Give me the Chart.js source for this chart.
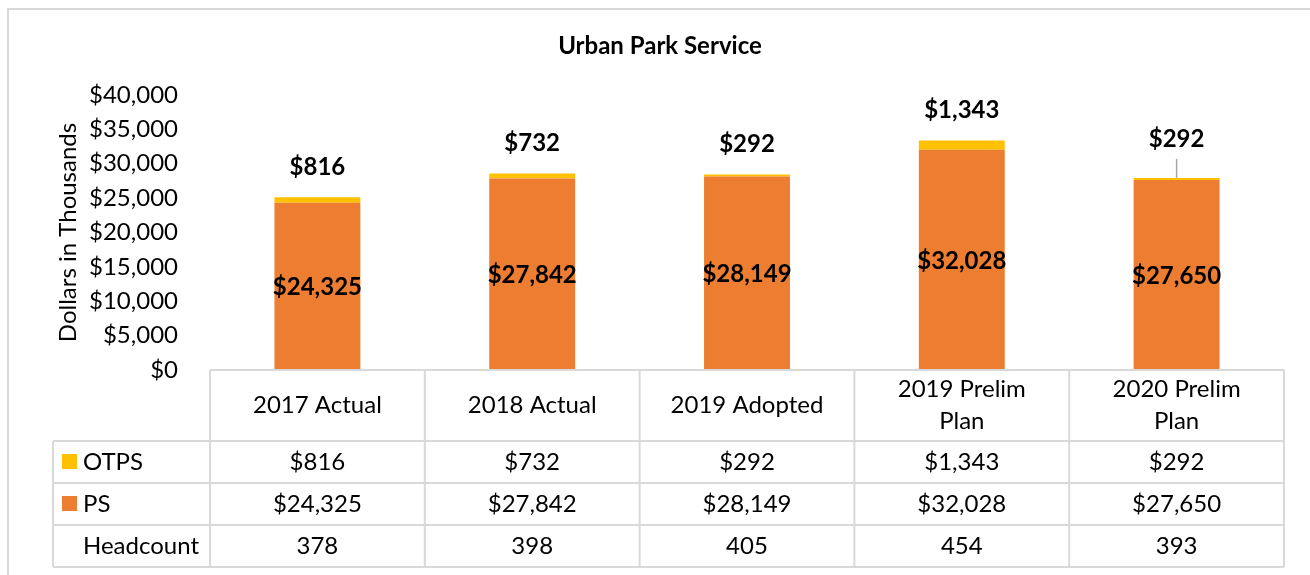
<!DOCTYPE html>
<html>
<head>
<meta charset="utf-8">
<script src="https://cdn.jsdelivr.net/npm/chart.js@4.4.1/dist/chart.umd.min.js"></script>
<style>
  body { margin: 0; background: #fff; }
  canvas { display: block; }
</style>
</head>
<body>
<canvas id="chart" width="1310" height="575"></canvas>
<script>
// data
const categories = [['2017 Actual'], ['2018 Actual'], ['2019 Adopted'], ['2019 Prelim', 'Plan'], ['2020 Prelim', 'Plan']];
const psValues = [24325, 27842, 28149, 32028, 27650];
const otpsValues = [816, 732, 292, 1343, 292];
const headcount = [378, 398, 405, 454, 393];
const yTicks = { min: 0, max: 40000, step: 5000 };

const FONT = 'Lato, "Open Sans", sans-serif';
const PS_COLOR = '#ED7D31';
const OTPS_COLOR = '#FFC000';
const GRID = '#D9D9D9';

function money(v) {
    return '$' + v.toLocaleString('en-US');
}

// outer frame
const framePlugin = {
    id: 'frame',
    beforeDraw(chart) {
        const ctx = chart.ctx;
        ctx.save();
        ctx.strokeStyle = GRID;
        ctx.lineWidth = 2;
        ctx.beginPath();
        ctx.moveTo(8, 600);
        ctx.lineTo(8, 9);
        ctx.lineTo(1320, 9);
        ctx.stroke();
        ctx.restore();
    }
};

// value labels on the bars
const labelPlugin = {
    id: 'barLabels',
    afterDatasetsDraw(chart) {
        const ctx = chart.ctx;
        ctx.save();
        ctx.font = 'bold 24px ' + FONT;
        ctx.fillStyle = '#000';
        ctx.textAlign = 'center';
        ctx.textBaseline = 'middle';

        const psMeta = chart.getDatasetMeta(0);
        psMeta.data.forEach((bar, i) => {
            ctx.fillText(money(psValues[i]), bar.x, (bar.y + bar.base) / 2 + 1);
        });

        const otMeta = chart.getDatasetMeta(1);
        otMeta.data.forEach((bar, i) => {
            let y = bar.y - 30;
            if (i === otMeta.data.length - 1) {
                // last label pushed up with a leader line
                y = bar.y - 39;
                ctx.strokeStyle = '#A6A6A6';
                ctx.lineWidth = 1.5;
                ctx.beginPath();
                ctx.moveTo(bar.x, y + 20);
                ctx.lineTo(bar.x, bar.y);
                ctx.stroke();
            }
            ctx.fillText(money(otpsValues[i]), bar.x, y);
        });
        ctx.restore();
    }
};

// data table under the plot
const tablePlugin = {
    id: 'dataTable',
    afterDraw(chart) {
        const ctx = chart.ctx;
        const area = chart.chartArea;
        const n = categories.length;
        const colW = (area.right - area.left) / n;
        const top = area.bottom;
        const headerH = 71;
        const rowH = 42;
        const labelLeft = 53;
        const rowsTop = top + headerH;
        const bottom = rowsTop + rowH * 3;

        ctx.save();
        ctx.strokeStyle = GRID;
        ctx.lineWidth = 2;
        ctx.beginPath();
        // header top
        ctx.moveTo(area.left, top);
        ctx.lineTo(area.right, top);
        // row lines
        for (let r = 0; r <= 3; r++) {
            const y = rowsTop + r * rowH;
            ctx.moveTo(labelLeft, y);
            ctx.lineTo(area.right, y);
        }
        // column lines
        for (let c = 0; c <= n; c++) {
            const x = area.left + c * colW;
            ctx.moveTo(x, top);
            ctx.lineTo(x, bottom);
        }
        ctx.moveTo(labelLeft, rowsTop);
        ctx.lineTo(labelLeft, bottom);
        ctx.stroke();

        ctx.fillStyle = '#000';
        ctx.font = '24px ' + FONT;
        ctx.textAlign = 'center';
        ctx.textBaseline = 'middle';

        // header labels
        categories.forEach((lines, c) => {
            const cx = area.left + (c + 0.5) * colW;
            const lh = 32;
            const y0 = top + headerH / 2 - (lines.length - 1) * lh / 2;
            lines.forEach((t, k) => ctx.fillText(t, cx, y0 + k * lh));
        });

        const rows = [
            { name: 'OTPS', color: OTPS_COLOR, vals: otpsValues.map(money) },
            { name: 'PS', color: PS_COLOR, vals: psValues.map(money) },
            { name: 'Headcount', color: null, vals: headcount.map(String) }
        ];
        rows.forEach((row, r) => {
            const cy = rowsTop + r * rowH + rowH / 2;
            row.vals.forEach((v, c) => {
                ctx.fillText(v, area.left + (c + 0.5) * colW, cy);
            });
            if (row.color) {
                ctx.fillStyle = row.color;
                ctx.fillRect(62, cy - 8, 15, 15);
                ctx.fillStyle = '#000';
            }
            ctx.textAlign = 'left';
            ctx.fillText(row.name, 83, cy);
            ctx.textAlign = 'center';
        });
        ctx.restore();
    }
};

const ctx = document.getElementById('chart').getContext('2d');
const chart = new Chart(ctx, {
    type: 'bar',
    data: {
        labels: categories.map(c => c.join(' ')),
        datasets: [{
            label: 'PS',
            data: psValues,
            backgroundColor: PS_COLOR,
            barPercentage: 1,
            categoryPercentage: 0.4
        }, {
            label: 'OTPS',
            data: otpsValues,
            backgroundColor: OTPS_COLOR,
            barPercentage: 1,
            categoryPercentage: 0.4
        }]
    },
    options: {
        responsive: false,
        animation: false,
        layout: {
            padding: { left: 36, right: 26, top: 0, bottom: 205 }
        },
        plugins: {
            legend: { display: false },
            tooltip: { enabled: false },
            title: {
                display: true,
                text: 'Urban Park Service',
                color: '#000',
                font: { family: FONT, size: 24, weight: 'bold', lineHeight: 1.2 },
                padding: { top: 32, bottom: 34.2 }
            }
        },
        scales: {
            x: {
                display: false,
                stacked: true
            },
            y: {
                stacked: true,
                min: yTicks.min,
                max: yTicks.max,
                afterFit(scale) { scale.width = 174; },
                border: { display: false },
                grid: { display: false, drawTicks: false },
                ticks: {
                    stepSize: yTicks.step,
                    padding: 32,
                    color: '#000',
                    font: { family: FONT, size: 24 },
                    callback: v => money(v)
                },
                title: {
                    display: true,
                    text: 'Dollars in Thousands',
                    color: '#000',
                    font: { family: FONT, size: 24, lineHeight: 1.2 },
                    padding: { top: 18, bottom: 0 }
                }
            }
        }
    },
    plugins: [framePlugin, labelPlugin, tablePlugin]
});
</script>
</body>
</html>
